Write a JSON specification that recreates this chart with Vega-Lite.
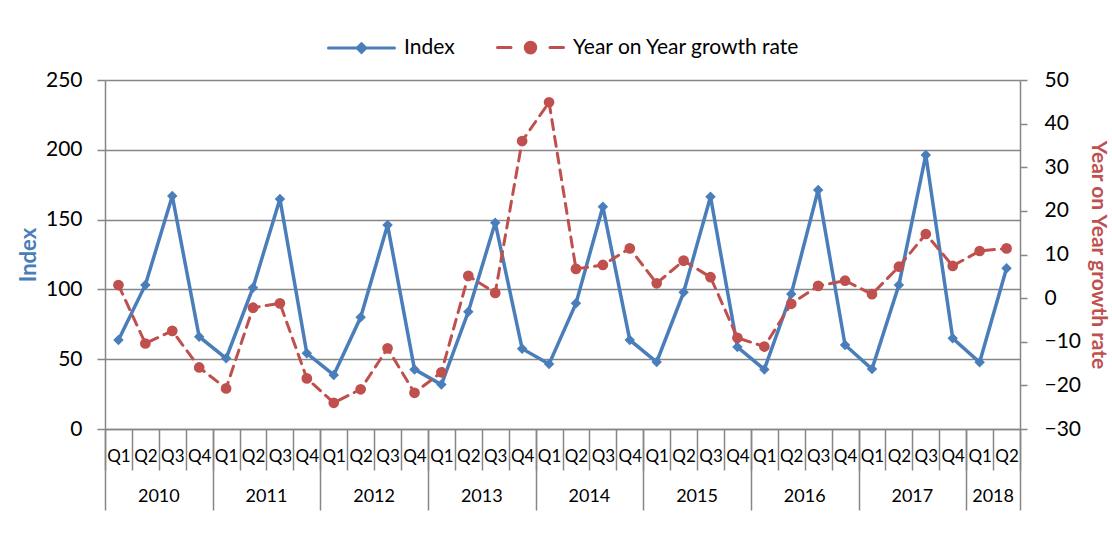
{
  "$schema": "https://vega.github.io/schema/vega-lite/v6.json",
  "width": 915,
  "height": 349,
  "autosize": {"type": "none"},
  "padding": {"left": 105, "top": 80, "right": 92, "bottom": 105},
  "background": "white",
  "config": {"font": "Lato", "view": {"stroke": null}},
  "data": {"values": [
    {"t": "2010 Q1", "Index": 63.8, "Growth": 3.0},
    {"t": "2010 Q2", "Index": 103.2, "Growth": -10.4},
    {"t": "2010 Q3", "Index": 166.9, "Growth": -7.5},
    {"t": "2010 Q4", "Index": 66.1, "Growth": -15.9},
    {"t": "2011 Q1", "Index": 50.6, "Growth": -20.7},
    {"t": "2011 Q2", "Index": 101.2, "Growth": -2.2},
    {"t": "2011 Q3", "Index": 164.8, "Growth": -1.2},
    {"t": "2011 Q4", "Index": 54.2, "Growth": -18.4},
    {"t": "2012 Q1", "Index": 38.7, "Growth": -24.0},
    {"t": "2012 Q2", "Index": 80.0, "Growth": -20.9},
    {"t": "2012 Q3", "Index": 146.1, "Growth": -11.5},
    {"t": "2012 Q4", "Index": 42.7, "Growth": -21.7},
    {"t": "2013 Q1", "Index": 31.8, "Growth": -17.0},
    {"t": "2013 Q2", "Index": 84.0, "Growth": 5.1},
    {"t": "2013 Q3", "Index": 147.8, "Growth": 1.2},
    {"t": "2013 Q4", "Index": 57.5, "Growth": 36.0},
    {"t": "2014 Q1", "Index": 46.5, "Growth": 44.9},
    {"t": "2014 Q2", "Index": 90.0, "Growth": 6.7},
    {"t": "2014 Q3", "Index": 159.2, "Growth": 7.6},
    {"t": "2014 Q4", "Index": 63.8, "Growth": 11.4},
    {"t": "2015 Q1", "Index": 48.0, "Growth": 3.4},
    {"t": "2015 Q2", "Index": 97.9, "Growth": 8.6},
    {"t": "2015 Q3", "Index": 166.4, "Growth": 4.8},
    {"t": "2015 Q4", "Index": 58.7, "Growth": -9.1},
    {"t": "2016 Q1", "Index": 42.7, "Growth": -11.1},
    {"t": "2016 Q2", "Index": 96.7, "Growth": -1.3},
    {"t": "2016 Q3", "Index": 171.2, "Growth": 2.8},
    {"t": "2016 Q4", "Index": 60.2, "Growth": 4.0},
    {"t": "2017 Q1", "Index": 42.9, "Growth": 0.9},
    {"t": "2017 Q2", "Index": 103.2, "Growth": 7.2},
    {"t": "2017 Q3", "Index": 196.3, "Growth": 14.7},
    {"t": "2017 Q4", "Index": 65.0, "Growth": 7.4},
    {"t": "2018 Q1", "Index": 47.8, "Growth": 10.8},
    {"t": "2018 Q2", "Index": 115.1, "Growth": 11.4}
  ]},
  "layer": [
    {
      "mark": {"type": "line", "strokeWidth": 3.5, "point": {"shape": "diamond", "filled": true, "size": 110, "opacity": 1}},
      "encoding": {
        "x": {"field": "t", "type": "ordinal", "sort": null,
          "scale": {"type": "band", "paddingInner": 0, "paddingOuter": 0},
          "axis": {"orient": "bottom", "title": null, "labelExpr": "isString(datum.value) ? substring(datum.value, 5) : ''", "labelAngle": 0,
            "labelFont": "Lato", "labelFontSize": 17, "labelColor": "black", "labelPadding": -22,
            "tickBand": "extent", "tickSize": 41, "tickColor": "#868686", "tickWidth": 1.5,
            "domainColor": "#868686", "domainWidth": 1.5, "grid": false}},
        "y": {"field": "Index", "type": "quantitative",
          "scale": {"domain": [0, 250], "nice": false, "zero": false},
          "axis": {"orient": "left", "title": "Index", "values": [0, 50, 100, 150, 200, 250],
            "titleColor": "#4a7ebb", "titleFont": "Lato", "titleFontWeight": "bold", "titleFontSize": 22, "titlePadding": 5,
            "labelFont": "Lato", "labelFontSize": 21, "labelColor": "black", "labelPadding": 15,
            "tickSize": 8, "tickColor": "#868686", "tickWidth": 1.5,
            "domainColor": "#868686", "domainWidth": 1.5,
            "grid": true, "gridColor": "#868686", "gridWidth": 1.5}},
        "color": {"datum": "Index",
          "scale": {"domain": ["Index", "Year on Year growth rate"], "range": ["#4a7ebb", "#c0504d"]},
          "legend": {"orient": "none", "legendX": 222, "legendY": -67, "direction": "horizontal", "title": null,
            "symbolSize": 4356, "symbolStrokeWidth": 3, "labelFont": "Lato", "labelFontSize": 21, "labelColor": "black",
            "labelOffset": 8, "columnPadding": 36, "labelLimit": 400,
            "encode": {"symbols": {"update": {
              "shape": {"signal": "datum.value === 'Index' ? 'M-1,0H1M0,-0.13L0.13,0L0,0.13L-0.13,0Z' : 'M-1,0H-0.59M0.59,0H1M-0.16,0A0.16,0.16,0,1,0,0.16,0A0.16,0.16,0,1,0,-0.16,0Z'"},
              "fill": {"signal": "datum.value === 'Index' ? '#4a7ebb' : '#c0504d'"},
              "stroke": {"signal": "datum.value === 'Index' ? '#4a7ebb' : '#c0504d'"},
              "strokeCap": {"value": "round"},
              "opacity": {"value": 1}}}}}}
      }
    },
    {
      "mark": {"type": "line", "strokeWidth": 3, "strokeDash": [10, 7], "strokeCap": "round", "point": {"shape": "circle", "filled": true, "size": 115, "opacity": 1}},
      "encoding": {
        "x": {"field": "t", "type": "ordinal", "sort": null,
          "axis": {"orient": "bottom", "title": null,
            "values": ["2010 Q2", "2011 Q2", "2012 Q2", "2013 Q2", "2014 Q2", "2015 Q2", "2016 Q2", "2017 Q2", "2018 Q1"],
            "labelExpr": "substring(datum.value, 0, 4)", "labelAngle": 0, "labelOffset": 13.456,
            "labelFont": "Lato", "labelFontSize": 18, "labelColor": "black", "labelPadding": 58,
            "ticks": false, "tickSize": 0, "domain": false, "grid": false}},
        "y": {"field": "Growth", "type": "quantitative",
          "scale": {"domain": [-30, 50], "nice": false, "zero": false},
          "axis": {"orient": "right", "title": "Year on Year growth rate", "values": [-30, -20, -10, 0, 10, 20, 30, 40, 50],
            "titleColor": "#c0504d", "titleFont": "Lato", "titleFontWeight": "bold", "titleFontSize": 21, "titlePadding": 7,
            "labelFont": "Lato", "labelFontSize": 21, "labelColor": "black", "labelPadding": 17,
            "tickSize": 7, "tickColor": "#868686", "tickWidth": 1.5,
            "domainColor": "#868686", "domainWidth": 1.5, "grid": false}},
        "color": {"datum": "Year on Year growth rate"}
      }
    },
    {
      "mark": {"type": "point", "opacity": 0},
      "encoding": {
        "x": {"field": "t", "type": "ordinal", "sort": null,
          "axis": {"orient": "bottom", "title": null, "labels": false, "domain": false, "grid": false,
            "values": ["2010 Q1", "2011 Q1", "2012 Q1", "2013 Q1", "2014 Q1", "2015 Q1", "2016 Q1", "2017 Q1", "2018 Q1"],
            "tickOffset": -13.456, "tickSize": 81, "tickColor": "#868686", "tickWidth": 1.5}}
      }
    },
    {
      "mark": {"type": "point", "opacity": 0},
      "encoding": {
        "x": {"field": "t", "type": "ordinal", "sort": null,
          "axis": {"orient": "bottom", "title": null, "labels": false, "domain": false, "grid": false,
            "values": ["2018 Q2"],
            "tickOffset": 13.456, "tickSize": 81, "tickColor": "#868686", "tickWidth": 1.5}}
      }
    }
  ],
  "resolve": {"scale": {"y": "independent"}, "axis": {"x": "independent"}}
}
